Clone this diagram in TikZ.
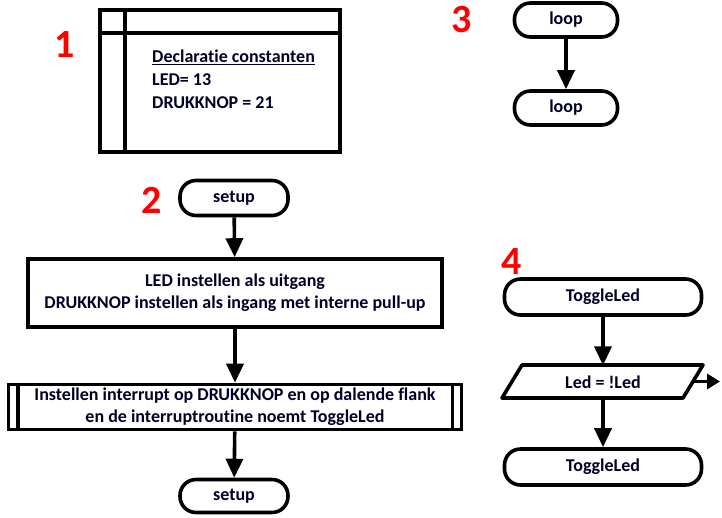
\documentclass[tikz,border=0pt]{standalone}
\usepackage{fontspec}
\setmainfont{Carlito}[Ligatures=NoCommon]
\usetikzlibrary{arrows.meta,shapes.geometric,calc}
\begin{document}
\begin{tikzpicture}[x=1pt,y=-1pt,
  every node/.style={font=\bfseries\fontsize{18}{22}\selectfont, text=black!85!blue},
  box/.style={draw, line width=3.6pt, inner sep=0pt, align=center},
  term/.style={box, rounded corners=16pt},
  ln/.style={line width=3.6pt},
  arr/.style={line width=3.6pt, -{Triangle[width=17pt,length=19pt]}},
  num/.style={font=\bfseries\fontsize{40}{42}\selectfont, text=red}]
\useasboundingbox (0,0) rectangle (722,517);

% 1
\node[num] (n1) at (65,45) {1};
\node[box, minimum width=240pt, minimum height=142pt] (dec) at (220,81) {};
\draw[ln] (125,10) -- (125,152);
\draw[ln] (100,33) -- (340,33);
\node[anchor=north west, align=left, inner sep=0pt] (dectxt) at (152,50)
  {\underline{Declaratie constanten}\\[1pt] LED= 13\\[1pt] DRUKKNOP = 21};

% 3
\node[num] (n3) at (462,20) {3};
\node[term, minimum width=103pt, minimum height=34pt] (loop1) at (566,20) {loop};
\node[term, minimum width=103pt, minimum height=34pt] (loop2) at (566,108) {loop};
\draw[arr] (loop1) -- (loop2);

% 2
\node[num] (n2) at (152,200) {2};
\node[term, minimum width=108pt, minimum height=35pt] (setup1) at (234,198) {setup};
\node[box, minimum width=414pt, minimum height=68pt] (ledbox) at (235,293)
  {LED instellen als uitgang\\DRUKKNOP instellen als ingang met interne pull-up};
\node[box, minimum width=453pt, minimum height=45pt] (intbox) at (235,407)
  {Instellen interrupt op DRUKKNOP en op dalende flank\\en de interruptroutine noemt ToggleLed};
\draw[ln] ($(intbox.north west)+(11,0)$) -- ($(intbox.south west)+(11,0)$);
\draw[ln] ($(intbox.north east)+(-11,0)$) -- ($(intbox.south east)+(-11,0)$);
\node[term, minimum width=108pt, minimum height=33pt] (setup2) at (234,496) {setup};
\draw[arr] (setup1) -- (ledbox);
\draw[arr] (ledbox) -- (intbox);
\draw[arr] (intbox) -- (setup2);

% 4
\node[num] (n4) at (512,262) {4};
\node[term, minimum width=197pt, minimum height=36pt] (tl1) at (603,297) {ToggleLed};
\node[inner sep=0pt, minimum width=181pt, minimum height=33pt] (ledinv) at (603,382) {Led = !Led};
\coordinate (pa) at (522,365);
\coordinate (pb) at (703,365);
\coordinate (pc) at (683,398);
\coordinate (pd) at (502,398);
\coordinate (pe) at (693,381.5);
\draw[ln, line join=round] (pa) -- (pb) -- (pc) -- (pd) -- cycle;
\node[term, minimum width=197pt, minimum height=36pt] (tl2) at (603,467) {ToggleLed};
\coordinate (out) at (720,381.5);
\draw[arr] (tl1) -- (ledinv);
\draw[arr] (ledinv) -- (tl2);
\draw[line width=3.6pt, -{Triangle[width=15pt,length=13pt]}] (pe) -- (out);
\end{tikzpicture}
\end{document}
